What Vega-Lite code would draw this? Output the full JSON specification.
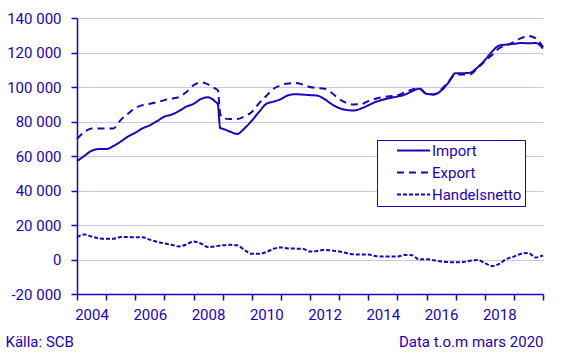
{
  "$schema": "https://vega.github.io/schema/vega-lite/v6.json",
  "width": 466,
  "height": 276,
  "autosize": {"type": "none"},
  "padding": {"left": 77, "top": 18, "right": 25, "bottom": 63},
  "config": {"font": "Roboto", "view": {"stroke": null}},
  "data": {"values": [
    {"d":"2004-01-01","Import":57000,"Export":70000,"Handelsnetto":13000},
    {"d":"2004-04-01","Import":60000,"Export":73800,"Handelsnetto":14500},
    {"d":"2004-07-01","Import":63000,"Export":76000,"Handelsnetto":13300},
    {"d":"2004-10-01","Import":64000,"Export":76000,"Handelsnetto":12300},
    {"d":"2005-01-01","Import":64000,"Export":76000,"Handelsnetto":12000},
    {"d":"2005-04-01","Import":65800,"Export":76000,"Handelsnetto":12000},
    {"d":"2005-07-01","Import":68300,"Export":80800,"Handelsnetto":13000},
    {"d":"2005-10-01","Import":71300,"Export":84500,"Handelsnetto":13000},
    {"d":"2006-01-01","Import":73500,"Export":87800,"Handelsnetto":12900},
    {"d":"2006-04-01","Import":76000,"Export":89500,"Handelsnetto":12900},
    {"d":"2006-07-01","Import":77800,"Export":90300,"Handelsnetto":11500},
    {"d":"2006-10-01","Import":80200,"Export":91200,"Handelsnetto":10300},
    {"d":"2007-01-01","Import":82800,"Export":92400,"Handelsnetto":9300},
    {"d":"2007-04-01","Import":84000,"Export":93300,"Handelsnetto":8500},
    {"d":"2007-07-01","Import":86000,"Export":94200,"Handelsnetto":7600},
    {"d":"2007-10-01","Import":88600,"Export":97000,"Handelsnetto":8600},
    {"d":"2008-01-01","Import":90200,"Export":101000,"Handelsnetto":10500},
    {"d":"2008-04-01","Import":93000,"Export":102700,"Handelsnetto":9300},
    {"d":"2008-07-01","Import":94000,"Export":101500,"Handelsnetto":7200},
    {"d":"2008-10-01","Import":91500,"Export":99000,"Handelsnetto":7600},
    {"d":"2008-11-01","Import":90000,"Export":98200,"Handelsnetto":7900},
    {"d":"2008-12-01","Import":76200,"Export":84500,"Handelsnetto":8100},
    {"d":"2009-01-01","Import":75800,"Export":82000,"Handelsnetto":8200},
    {"d":"2009-04-01","Import":74200,"Export":81400,"Handelsnetto":8500},
    {"d":"2009-07-01","Import":72800,"Export":81400,"Handelsnetto":8200},
    {"d":"2009-10-01","Import":76000,"Export":83000,"Handelsnetto":5500},
    {"d":"2010-01-01","Import":80500,"Export":85500,"Handelsnetto":3300},
    {"d":"2010-04-01","Import":85500,"Export":90500,"Handelsnetto":3300},
    {"d":"2010-07-01","Import":90200,"Export":94800,"Handelsnetto":4300},
    {"d":"2010-10-01","Import":91500,"Export":99000,"Handelsnetto":6200},
    {"d":"2011-01-01","Import":93000,"Export":101000,"Handelsnetto":7000},
    {"d":"2011-04-01","Import":95200,"Export":102000,"Handelsnetto":6400},
    {"d":"2011-07-01","Import":95800,"Export":102300,"Handelsnetto":6300},
    {"d":"2011-10-01","Import":95600,"Export":101400,"Handelsnetto":6200},
    {"d":"2012-01-01","Import":95300,"Export":100000,"Handelsnetto":4600},
    {"d":"2012-04-01","Import":95000,"Export":99400,"Handelsnetto":4900},
    {"d":"2012-07-01","Import":93000,"Export":99000,"Handelsnetto":5600},
    {"d":"2012-10-01","Import":90000,"Export":96500,"Handelsnetto":5200},
    {"d":"2013-01-01","Import":87800,"Export":93000,"Handelsnetto":4700},
    {"d":"2013-04-01","Import":86700,"Export":90800,"Handelsnetto":3800},
    {"d":"2013-07-01","Import":86400,"Export":89900,"Handelsnetto":3000},
    {"d":"2013-10-01","Import":87500,"Export":90000,"Handelsnetto":2900},
    {"d":"2014-01-01","Import":89400,"Export":91800,"Handelsnetto":2900},
    {"d":"2014-04-01","Import":91300,"Export":93200,"Handelsnetto":2000},
    {"d":"2014-07-01","Import":92600,"Export":94200,"Handelsnetto":1700},
    {"d":"2014-10-01","Import":93600,"Export":94600,"Handelsnetto":1700},
    {"d":"2015-01-01","Import":94500,"Export":95200,"Handelsnetto":1700},
    {"d":"2015-04-01","Import":95500,"Export":96800,"Handelsnetto":2600},
    {"d":"2015-07-01","Import":97500,"Export":98500,"Handelsnetto":2500},
    {"d":"2015-10-01","Import":99000,"Export":99200,"Handelsnetto":0},
    {"d":"2016-01-01","Import":96000,"Export":96100,"Handelsnetto":200},
    {"d":"2016-04-01","Import":95700,"Export":95700,"Handelsnetto":-400},
    {"d":"2016-07-01","Import":97800,"Export":98500,"Handelsnetto":-1100},
    {"d":"2016-10-01","Import":102500,"Export":103000,"Handelsnetto":-1500},
    {"d":"2017-01-01","Import":108000,"Export":107300,"Handelsnetto":-1600},
    {"d":"2017-04-01","Import":108000,"Export":107300,"Handelsnetto":-1500},
    {"d":"2017-07-01","Import":108300,"Export":107300,"Handelsnetto":-700},
    {"d":"2017-10-01","Import":111300,"Export":111000,"Handelsnetto":-300},
    {"d":"2018-01-01","Import":115500,"Export":114800,"Handelsnetto":-2000},
    {"d":"2018-04-01","Import":120500,"Export":118500,"Handelsnetto":-3800},
    {"d":"2018-07-01","Import":124000,"Export":122500,"Handelsnetto":-2500},
    {"d":"2018-10-01","Import":124600,"Export":124200,"Handelsnetto":300},
    {"d":"2019-01-01","Import":125000,"Export":126000,"Handelsnetto":1700},
    {"d":"2019-04-01","Import":125500,"Export":128300,"Handelsnetto":3300},
    {"d":"2019-07-01","Import":125300,"Export":129600,"Handelsnetto":3800},
    {"d":"2019-10-01","Import":125500,"Export":128200,"Handelsnetto":1200},
    {"d":"2020-01-01","Import":122300,"Export":123200,"Handelsnetto":2300}
  ]},
  "transform": [{"fold": ["Import", "Export", "Handelsnetto"], "as": ["series", "value"]}],
  "mark": {"type": "line", "color": "#1e00be", "strokeWidth": 2, "interpolate": "monotone"},
  "encoding": {
    "x": {
      "field": "d", "type": "temporal",
      "scale": {"type": "utc", "domain": [{"year": 2004, "month": 1, "date": 1, "utc": true}, {"year": 2020, "month": 1, "date": 1, "utc": true}]},
      "axis": {
        "values": [
          {"year":2004,"month":1,"date":1,"utc":true},{"year":2005,"month":1,"date":1,"utc":true},
          {"year":2006,"month":1,"date":1,"utc":true},{"year":2007,"month":1,"date":1,"utc":true},
          {"year":2008,"month":1,"date":1,"utc":true},{"year":2009,"month":1,"date":1,"utc":true},
          {"year":2010,"month":1,"date":1,"utc":true},{"year":2011,"month":1,"date":1,"utc":true},
          {"year":2012,"month":1,"date":1,"utc":true},{"year":2013,"month":1,"date":1,"utc":true},
          {"year":2014,"month":1,"date":1,"utc":true},{"year":2015,"month":1,"date":1,"utc":true},
          {"year":2016,"month":1,"date":1,"utc":true},{"year":2017,"month":1,"date":1,"utc":true},
          {"year":2018,"month":1,"date":1,"utc":true},{"year":2019,"month":1,"date":1,"utc":true},
          {"year":2020,"month":1,"date":1,"utc":true}
        ],
        "labelExpr": "utcyear(datum.value) % 2 == 0 && utcyear(datum.value) < 2020 ? utcFormat(datum.value, '%Y') : ''",
        "labelOffset": 14.5,
        "labelFlush": false,
        "labelOverlap": false,
        "labelBound": false,
        "labelPadding": 7,
        "labelFontSize": 15,
        "labelColor": "#1e00be",
        "grid": false,
        "domainColor": "#1e00be",
        "domainWidth": 1.5,
        "tickColor": "#1e00be",
        "tickWidth": 1.5,
        "tickSize": 6,
        "title": "Data t.o.m mars 2020",
        "titleX": 466,
        "titleY": 52,
        "titleAlign": "right",
        "titleBaseline": "alphabetic",
        "titleFontSize": 15,
        "titleFontWeight": "normal",
        "titleColor": "#1e00be"
      }
    },
    "y": {
      "field": "value", "type": "quantitative",
      "scale": {"domain": [-20000, 140000], "nice": false, "zero": false},
      "axis": {
        "values": [-20000, 0, 20000, 40000, 60000, 80000, 100000, 120000, 140000],
        "labelExpr": "(datum.value < 0 ? '-' : '') + replace(format(abs(datum.value), ','), ',', ' ')",
        "labelFontSize": 15,
        "labelColor": "#1e00be",
        "labelPadding": 10,
        "grid": true,
        "gridColor": "#c9c5ef",
        "gridWidth": 1,
        "domainColor": "#1e00be",
        "domainWidth": 1.5,
        "tickColor": "#1e00be",
        "tickWidth": 1.5,
        "tickSize": 6,
        "title": "Källa: SCB",
        "titleAngle": 0,
        "titleX": -72,
        "titleY": 328,
        "titleAlign": "left",
        "titleBaseline": "alphabetic",
        "titleFontSize": 15,
        "titleFontWeight": "normal",
        "titleColor": "#1e00be"
      }
    },
    "strokeDash": {
      "field": "series", "type": "nominal",
      "scale": {"domain": ["Import", "Export", "Handelsnetto"], "range": [[1, 0], [7, 5], [4, 2]]},
      "legend": {
        "title": null,
        "orient": "none",
        "legendX": 300,
        "legendY": 122,
        "strokeColor": "#1e00be",
        "fillColor": "white",
        "padding": 3,
        "symbolType": "M-3,0H3",
        "symbolSize": 121,
        "symbolOffset": 26,
        "symbolStrokeWidth": 2,
        "symbolStrokeColor": "#1e00be",
        "labelFontSize": 15,
        "labelColor": "#1e00be",
        "labelOffset": 11,
        "labelExpr": "datum.label + '        '",
        "rowPadding": 6
      }
    }
  }
}
